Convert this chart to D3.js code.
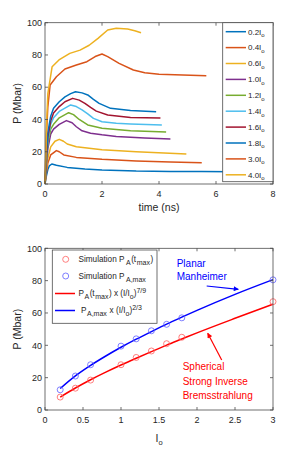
<!DOCTYPE html>
<html>
<head>
<meta charset="utf-8">
<script src="https://cdn.jsdelivr.net/npm/d3@7"></script>
<style>
  body { margin: 0; background: #fff; }
  svg { display: block; font-family: "Liberation Sans", Arial, sans-serif; }
</style>
</head>
<body>
<div id="chart"></div>
<script>
// ---- top panel: pressure vs time for each intensity ----
var curveLabels = ["0.2", "0.4", "0.6", "1.0", "1.2", "1.4", "1.6", "1.8", "3.0", "4.0"];
var curveColors = ["#0072BD", "#D95319", "#EDB120", "#7E2F8E", "#77AC30", "#4DBEEE", "#A2142F", "#0072BD", "#D95319", "#EDB120"];
var curveT = [
  [0, 0.05, 0.1, 0.15, 0.24, 0.4, 0.78, 1.4, 2, 3.2, 4.4, 5.5, 6.6, 7.0],
  [0, 0.05, 0.1, 0.2, 0.4, 0.5, 0.66, 1.1, 2, 3.2, 4.4, 5.5],
  [0, 0.05, 0.1, 0.2, 0.35, 0.5, 0.65, 0.78, 1.1, 2, 3.2, 4.96],
  [0, 0.05, 0.1, 0.2, 0.3, 0.5, 0.75, 0.95, 1.1, 1.3, 1.6, 2, 2.5, 3.5, 4.4],
  [0, 0.05, 0.1, 0.2, 0.3, 0.5, 0.83, 1.0, 1.2, 1.5, 2, 3, 4.25],
  [0, 0.05, 0.1, 0.2, 0.3, 0.5, 0.9, 1.1, 1.3, 1.5, 1.7, 2, 2.5, 3, 4.1],
  [0, 0.05, 0.1, 0.2, 0.3, 0.5, 0.7, 0.97, 1.2, 1.4, 1.6, 1.8, 2.2, 3, 4.05],
  [0, 0.05, 0.1, 0.2, 0.3, 0.5, 0.7, 0.9, 1.07, 1.3, 1.5, 1.7, 1.9, 2.3, 3, 3.9],
  [0, 0.05, 0.1, 0.18, 0.4, 0.7, 1.1, 1.47, 1.76, 2.0, 2.2, 2.6, 3.1, 3.5, 4.0, 5.66],
  [0, 0.05, 0.1, 0.25, 0.49, 0.87, 1.23, 1.55, 1.86, 2.2, 2.5, 2.9, 3.15, 3.37]
];
var curveP = [
  [0, 5, 9, 11.2, 12.4, 11.6, 10.3, 9.3, 8.7, 8.0, 7.8, 7.7, 7.6, 7.6],
  [0, 7, 13, 18, 20.7, 20, 18, 16.5, 15.3, 14.3, 13.6, 13.2],
  [0, 9, 16, 23, 26.5, 27.7, 26.5, 24.8, 23.1, 21.3, 20, 18.6],
  [0, 12, 22, 31, 34, 37, 39.3, 38, 35.5, 33, 31.5, 30.5, 29.5, 28.5, 27.9],
  [0, 14, 25, 34, 37, 41, 44.2, 43, 40, 36.6, 34.5, 33, 32.2],
  [0, 15, 27, 37, 41, 45, 49, 48, 46, 43.5, 40.7, 38.6, 37.6, 37.2, 36.6],
  [0, 16, 29, 39, 44, 48, 51, 53.1, 52, 50, 47.5, 45.2, 42.8, 41.3, 40.9],
  [0, 18, 32, 42, 47, 51, 54, 56, 57.2, 56.5, 55.2, 52.5, 50, 46.9, 45.5, 44.8],
  [0, 30, 48, 61.4, 66.5, 71.3, 73.8, 75.8, 79, 80.6, 79, 74.8, 70.7, 69, 68, 67.1],
  [0, 35, 56, 72.7, 76.9, 81, 83, 86, 90.3, 95.5, 96.5, 96.1, 95, 93.8]
];
var topXTicks = [0, 2, 4, 6, 8];
var topYTicks = [0, 20, 40, 60, 80, 100];

// ---- bottom panel: peak pressure vs intensity ----
var simI = [0.2, 0.4, 0.6, 1.0, 1.2, 1.4, 1.6, 1.8, 3.0];
var simPtmax = [8, 13.5, 18.5, 28, 32.5, 36.5, 41, 45, 67];
var simPmax = [12.5, 21, 28, 39.5, 44, 49, 53, 57, 80.5];
var fitI = [0.2, 0.4, 0.6, 0.8, 1.0, 1.2, 1.4, 1.6, 1.8, 2.0, 2.5, 3.0];
var fitRed = [8.0, 13.6, 18.7, 23.4, 27.8, 32.0, 36.1, 40.1, 43.9, 47.7, 56.7, 65.4];
var fitBlue = [13.3, 21.1, 27.6, 33.4, 38.8, 43.8, 48.5, 53.1, 57.4, 61.6, 71.5, 80.6];
var botXTicks = [0, 0.5, 1, 1.5, 2, 2.5, 3];
var botYTicks = [0, 20, 40, 60, 80, 100];

var W = 292, H = 451;
var svg = d3.select("#chart").append("svg").attr("width", W).attr("height", H);
var axisColor = "#4d4d4d";

// draws box, ticks on all four sides, labels
function drawAxes(g, x, y, xt, yt) {
  var x0 = x.range()[0], x1 = x.range()[1], y0 = y.range()[0], y1 = y.range()[1];
  var tl = 3;
  g.append("rect").attr("x", x0).attr("y", y1).attr("width", x1 - x0).attr("height", y0 - y1)
    .attr("fill", "none").attr("stroke", axisColor).attr("stroke-width", 0.8);
  xt.forEach(function(v) {
    g.append("line").attr("x1", x(v)).attr("x2", x(v)).attr("y1", y0).attr("y2", y0 - tl).attr("stroke", axisColor).attr("stroke-width", 0.8);
    g.append("line").attr("x1", x(v)).attr("x2", x(v)).attr("y1", y1).attr("y2", y1 + tl).attr("stroke", axisColor).attr("stroke-width", 0.8);
    g.append("text").attr("x", x(v)).attr("y", y0 + 13).attr("text-anchor", "middle")
      .attr("font-size", "9px").attr("fill", "#262626").text(v);
  });
  yt.forEach(function(v) {
    g.append("line").attr("x1", x0).attr("x2", x0 + tl).attr("y1", y(v)).attr("y2", y(v)).attr("stroke", axisColor).attr("stroke-width", 0.8);
    g.append("line").attr("x1", x1).attr("x2", x1 - tl).attr("y1", y(v)).attr("y2", y(v)).attr("stroke", axisColor).attr("stroke-width", 0.8);
    g.append("text").attr("x", x0 - 3).attr("y", y(v) + 3.2).attr("text-anchor", "end")
      .attr("font-size", "9px").attr("fill", "#262626").text(v);
  });
  g.append("text").attr("transform", "translate(" + 21 + "," + ((y0 + y1) / 2) + ") rotate(-90)")
    .attr("text-anchor", "middle").attr("font-size", "10.5px").attr("fill", "#262626").text("P (Mbar)");
}

// ---------- top chart ----------
var xT = d3.scaleLinear().domain([0, 8]).range([45, 273]);
var yT = d3.scaleLinear().domain([0, 100]).range([184, 22.7]);
var gT = svg.append("g");

var lineT = d3.line().x(function(d) { return xT(d[0]); }).y(function(d) { return yT(d[1]); });
curveLabels.forEach(function(lab, i) {
  var pts = curveT[i].map(function(t, j) { return [t, curveP[i][j]]; });
  gT.append("path").datum(pts).attr("d", lineT)
    .attr("fill", "none").attr("stroke", curveColors[i]).attr("stroke-width", 1.5)
    .attr("stroke-linejoin", "round");
});

drawAxes(gT, xT, yT, topXTicks, topYTicks);
gT.append("text").attr("x", (45 + 273) / 2).attr("y", 211).attr("text-anchor", "middle")
  .attr("font-size", "10.5px").attr("fill", "#262626").text("time (ns)");

// legend
var legT = gT.append("g");
legT.append("rect").attr("x", 222.7).attr("y", 22.7).attr("width", 50.3).attr("height", 159)
  .attr("fill", "#fff").attr("stroke", axisColor).attr("stroke-width", 0.8);
curveLabels.forEach(function(lab, i) {
  var ly = 31.7 + i * 15.9;
  legT.append("line").attr("x1", 225.7).attr("x2", 246).attr("y1", ly).attr("y2", ly)
    .attr("stroke", curveColors[i]).attr("stroke-width", 1.5);
  var t = legT.append("text").attr("x", 248).attr("y", ly + 2.8).attr("font-size", "8px").attr("fill", "#262626");
  t.append("tspan").text(lab + "I");
  t.append("tspan").attr("dy", 2.5).attr("font-size", "6px").text("o");
});

// ---------- bottom chart ----------
var xB = d3.scaleLinear().domain([0, 3]).range([45, 273]);
var yB = d3.scaleLinear().domain([0, 100]).range([410, 248.3]);
var gB = svg.append("g");

var lineB = d3.line().curve(d3.curveMonotoneX)
  .x(function(d) { return xB(d[0]); }).y(function(d) { return yB(d[1]); });
gB.append("path").datum(fitI.map(function(v, j) { return [v, fitRed[j]]; })).attr("d", lineB)
  .attr("fill", "none").attr("stroke", "#ff0000").attr("stroke-width", 1.5);
gB.append("path").datum(fitI.map(function(v, j) { return [v, fitBlue[j]]; })).attr("d", lineB)
  .attr("fill", "none").attr("stroke", "#0000ff").attr("stroke-width", 1.5);

gB.selectAll("circle.red").data(simI).enter().append("circle")
  .attr("cx", function(d) { return xB(d); }).attr("cy", function(d, j) { return yB(simPtmax[j]); })
  .attr("r", 3).attr("fill", "none").attr("stroke", "#ff6060").attr("stroke-width", 0.8);
gB.selectAll("circle.blue").data(simI).enter().append("circle")
  .attr("cx", function(d) { return xB(d); }).attr("cy", function(d, j) { return yB(simPmax[j]); })
  .attr("r", 3).attr("fill", "none").attr("stroke", "#6060ff").attr("stroke-width", 0.8);

drawAxes(gB, xB, yB, botXTicks, botYTicks);
var xl = gB.append("text").attr("x", (45 + 273) / 2).attr("y", 442).attr("text-anchor", "middle")
  .attr("font-size", "10.5px").attr("fill", "#262626");
xl.append("tspan").text("I");
xl.append("tspan").attr("dy", 3).attr("font-size", "7.5px").text("o");

// legend bottom
var legB = gB.append("g");
legB.append("rect").attr("x", 52.3).attr("y", 250).attr("width", 104.7).attr("height", 73.3)
  .attr("fill", "#fff").attr("stroke", axisColor).attr("stroke-width", 0.8);
var legRows = [259.3, 276, 293.5, 310.5];
legB.append("circle").attr("cx", 65.7).attr("cy", legRows[0]).attr("r", 3).attr("fill", "none").attr("stroke", "#ff6060").attr("stroke-width", 0.8);
legB.append("circle").attr("cx", 65.7).attr("cy", legRows[1]).attr("r", 3).attr("fill", "none").attr("stroke", "#6060ff").attr("stroke-width", 0.8);
legB.append("line").attr("x1", 55).attr("x2", 75).attr("y1", legRows[2]).attr("y2", legRows[2]).attr("stroke", "#ff0000").attr("stroke-width", 1.5);
legB.append("line").attr("x1", 55).attr("x2", 75).attr("y1", legRows[3]).attr("y2", legRows[3]).attr("stroke", "#0000ff").attr("stroke-width", 1.5);

var fs = "8.2px", sub = "7px";
// appends [text, dy, isSub, dx] pieces to one legend row
function legText(x, yy, parts) {
  var t = legB.append("text").attr("x", x).attr("y", yy + 2.7).attr("font-size", fs).attr("fill", "#262626");
  parts.forEach(function(p) {
    var s = t.append("tspan").text(p[0]).attr("dy", p[1]);
    if (p[2]) s.attr("font-size", sub);
    if (p[3]) s.attr("dx", p[3]);
  });
}
legText(78.5, legRows[0], [["Simulation P", 0], ["A", 3, 1, 1.5], ["(t", -3, 0, 0.5], ["max", 3, 1, 0.5], [")", -3, 0, 0.5]]);
legText(78.5, legRows[1], [["Simulation P", 0], ["A,max", 3, 1, 1.5]]);
legText(78.5, legRows[2], [["P", 0], ["A", 3, 1, 0.5], ["(t", -3, 0, 0.5], ["max", 3, 1, 0.5], [") x (I/I", -3, 0, 0.5], ["o", 3, 1], [")", -3], ["7/9", -3.5, 1]]);
legText(81, legRows[3], [["P", 0], ["A,max", 3, 1, 0.5], [" x (I/I", -3, 0, 0.5], ["o", 3, 1], [")", -3], ["2/3", -3.5, 1]]);

// annotations
svg.append("defs").selectAll("marker").data([["arrB", "#0000ff"], ["arrR", "#ff0000"]]).enter()
  .append("marker").attr("id", function(d) { return d[0]; }).attr("viewBox", "0 0 10 10")
  .attr("refX", 9).attr("refY", 5).attr("markerWidth", 6).attr("markerHeight", 5).attr("orient", "auto")
  .attr("markerUnits", "userSpaceOnUse")
  .append("path").attr("d", "M0,0 L10,5 L0,10 Z").attr("fill", function(d) { return d[1]; });

gB.append("text").attr("x", 176.7).attr("y", 266.5).attr("font-size", "10px").attr("fill", "#0000ff").text("Planar");
gB.append("text").attr("x", 176.7).attr("y", 279.8).attr("font-size", "10px").attr("fill", "#0000ff").text("Manheimer");
gB.append("line").attr("x1", 206.7).attr("y1", 286).attr("x2", 238.3).attr("y2", 289.3)
  .attr("stroke", "#0000ff").attr("stroke-width", 1.2).attr("marker-end", "url(#arrB)");

gB.append("text").attr("x", 182.7).attr("y", 370.3).attr("font-size", "10px").attr("fill", "#ff0000").text("Spherical");
gB.append("text").attr("x", 182.7).attr("y", 385).attr("font-size", "10px").attr("fill", "#ff0000").text("Strong Inverse");
gB.append("text").attr("x", 182.7).attr("y", 398.8).attr("font-size", "10px").attr("fill", "#ff0000").text("Bremsstrahlung");
gB.append("line").attr("x1", 221.7).attr("y1", 360).attr("x2", 207.7).attr("y2", 333.3)
  .attr("stroke", "#ff0000").attr("stroke-width", 1.2).attr("marker-end", "url(#arrR)");
</script>
</body>
</html>
